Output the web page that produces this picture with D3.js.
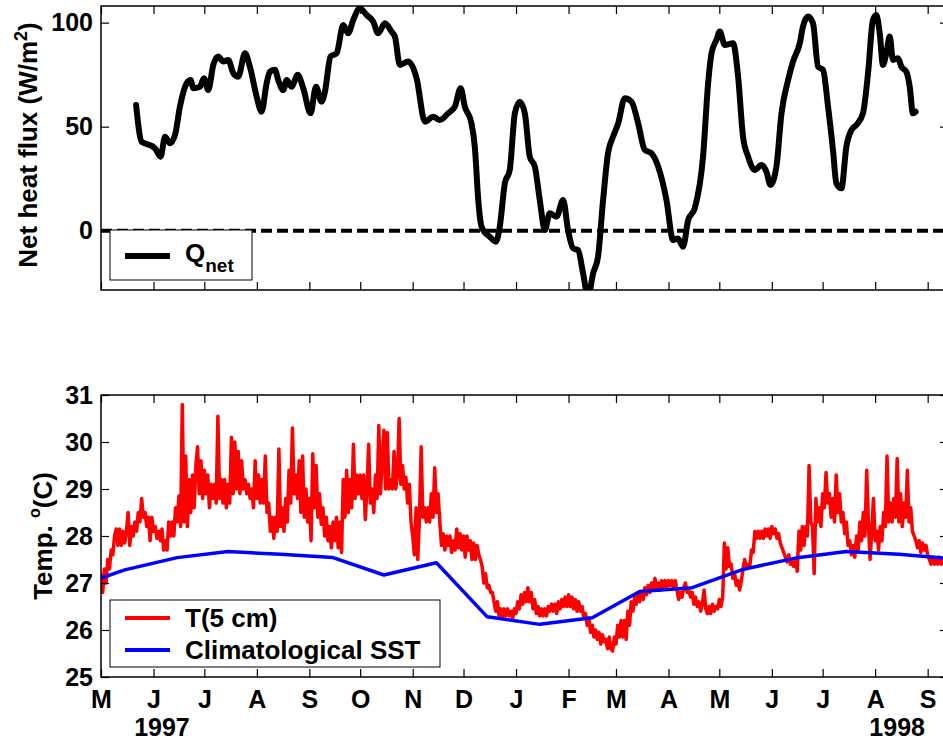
<!DOCTYPE html>
<html>
<head>
<meta charset="utf-8">
<script src="https://cdn.jsdelivr.net/npm/d3@7"></script>
<style>
  body { margin: 0; background: #fff; }
  svg { display: block; font-family: "Liberation Sans", Arial, sans-serif; font-weight: bold; }
</style>
</head>
<body>
<div id="chart"></div>
<script>
// Net heat flux (top) and 5 cm temperature vs climatology (bottom), May 1997 - Sep 1998

// Qnet: day offset from 1 May 1997, W/m^2
const qDays = [
  20.7, 24.0, 27.0, 31.9, 35.2, 37.8, 40.7, 43.7, 46.6, 50.6,
  52.9, 54.5, 58.4, 60.8, 63.3, 66.3, 69.2, 72.2, 75.1, 78.1,
  81.0, 85.0, 87.9, 91.9, 94.8, 97.8, 99.7, 102.7, 104.6, 107.6,
  109.6, 112.5, 116.1, 119.4, 123.7, 126.9, 130.2, 132.2, 135.5, 139.1,
  143.0, 145.9, 148.9, 152.8, 156.8, 160.7, 163.6, 167.6, 171.5, 173.5,
  176.4, 181.3, 186.3, 191.2, 196.1, 200.0, 204.9, 208.9, 212.3, 214.8,
  218.7, 220.7, 222.7, 224.3, 225.6, 229.5, 233.1, 235.4, 238.4, 241.3,
  244.3, 247.2, 250.2, 253.1, 256.1, 259.0, 262.0, 264.9, 268.9, 272.8,
  275.7, 278.7, 281.6, 284.6, 287.5, 290.5, 293.4, 296.4, 299.3, 302.3,
  305.3, 309.2, 313.2, 317.1, 321.0, 325.0, 328.9, 333.8, 337.7, 340.6,
  343.6, 346.6, 350.5, 355.4, 358.4, 360.4, 363.3, 365.3, 368.2, 373.1,
  376.1, 379.0, 382.0, 385.9, 389.9, 392.8, 395.2, 398.7, 401.7, 405.6,
  408.5, 412.5, 414.4, 417.4, 420.3, 423.3, 426.2, 429.2, 432.1, 434.1,
  437.1, 440.0, 443.0, 445.9, 449.8, 452.8, 455.7, 457.7, 459.7, 461.6,
  463.6, 465.6, 467.5, 470.5, 472.5, 475.4, 477.4, 479.3, 480.9
];
const qNet = [
  60.4, 42.8, 41.7, 39.6, 35.6, 45.2, 42, 46, 59.6, 70.9,
  72.4, 68.5, 69.2, 73.3, 67.6, 79.7, 83.7, 81.3, 82.1, 75.7,
  74, 85.3, 78.8, 64.4, 57.2, 70.9, 76.4, 77.3, 72.5, 67.6,
  72.4, 69.2, 74.9, 68.5, 56.4, 69.2, 62, 66.8, 83.7, 85.3,
  98.9, 94.9, 101.3, 106.9, 103.7, 100.5, 94.9, 99.7, 95.7, 93.3,
  79.7, 81.3, 73.3, 52.4, 54.8, 53.2, 56.4, 59.6, 68.5, 59.6,
  51.6, 40, 14.8, 3, 0.3, -2.9, -5.3, 1.9, 22.8, 29.2,
  56.4, 62, 56.4, 35.6, 30.8, 14.8, 0.3, 8.4, 6.7, 14.8,
  0.3, -8.5, -9.3, -20.5, -32, -20.5, -12.5, 14.8, 37.2, 45.2,
  51.6, 63.7, 62, 51.6, 38.8, 37.2, 30.8, 14.8, -4.5, -3.7,
  -7.7, 5.1, 10.8, 35.6, 70.9, 85.3, 91.7, 95.7, 89.3, 90.1,
  74, 45.2, 35.6, 29.2, 31.6, 28.4, 22, 30.8, 56.4, 72.4,
  81.3, 90.1, 98.1, 102.9, 99.7, 78.8, 77.3, 59.6, 38.8, 22.8,
  20.4, 40.4, 48.4, 50.8, 56.4, 75.7, 101.3, 103.7, 94.9, 79.7,
  85.3, 93.3, 82.1, 82.9, 78.8, 76.4, 69.2, 56.4, 57.2
];

// T(5 cm): one value per day from 1 May 1997, deg C
const t5cm = [
  27.2, 26.8, 27.3, 27.0, 27.5, 27.3, 27.7, 27.6, 28.0, 28.15,
  27.8, 28.15, 27.8, 28.1, 27.85, 28.1, 28.5, 27.8, 28.2, 28.0,
  28.3, 28.1, 28.5, 28.3, 28.8, 28.4, 28.5, 28.2, 28.4, 27.9,
  28.4, 28.1, 28.2, 27.95, 28.1, 27.9, 28.15, 27.7, 27.9, 27.7,
  28.3, 28.0, 28.3, 28.0, 28.6, 28.3, 28.85, 28.2, 30.8, 28.3,
  29.7, 28.2, 29.2, 28.5, 29.3, 28.6, 29.5, 29.9, 28.9, 29.6,
  28.8, 29.4, 28.9, 29.3, 28.6, 29.1, 28.8, 29.1, 28.7, 30.55,
  28.8, 29.2, 28.7, 29.2, 28.6, 29.1, 28.7, 30.1, 28.9, 30.0,
  29.0, 29.8, 28.9, 29.6, 29.0, 29.2, 28.9, 29.1, 28.8, 29.0,
  28.6, 29.6, 28.8, 29.3, 28.7, 29.2, 28.7, 29.7, 28.5, 28.7,
  28.1, 28.4, 27.95, 28.4, 28.1, 29.85, 28.2, 28.6, 28.1, 28.8,
  28.3, 29.4, 28.7, 30.3, 28.9, 29.3, 28.8, 29.6, 28.5, 29.7,
  28.4, 29.0, 28.3, 28.8, 27.9, 29.75, 28.6, 29.5, 28.4, 28.9,
  28.25, 28.6, 28.0, 28.4, 27.9, 28.2, 27.75, 28.3, 27.9, 28.4,
  27.75, 28.3, 27.65, 29.2, 28.4, 29.4, 28.5, 29.2, 28.6, 29.95,
  28.8, 29.3, 28.9, 29.3, 28.8, 29.3, 28.35, 29.0, 29.95, 28.7,
  29.0, 28.5, 29.3, 28.8, 30.35, 28.9, 29.6, 30.25, 29.0, 30.2,
  29.0, 29.2, 29.0, 29.8, 29.0, 29.3, 30.5, 29.1, 29.5, 29.0,
  29.25, 28.7, 29.1, 28.3, 28.0, 27.6, 28.6, 27.5, 28.4, 29.9,
  28.4, 28.6, 28.3, 28.6, 28.3, 28.9, 28.4, 29.45, 28.5, 28.9,
  28.3, 27.8, 28.05, 27.7, 28.0, 27.8, 28.0, 27.65, 27.9, 27.7,
  28.15, 27.75, 28.05, 27.7, 28.0, 27.55, 28.0, 27.7, 27.9, 27.5,
  27.85, 27.5, 27.8, 27.6, 27.5, 27.35, 27.0, 27.2, 26.9, 26.95,
  26.8, 26.8, 26.6, 26.4, 26.6, 26.3, 26.45, 26.25, 26.45, 26.3,
  26.45, 26.3, 26.4, 26.25, 26.45, 26.35, 26.6, 26.45, 26.75, 26.55,
  26.8, 26.6, 26.9, 26.6, 26.8, 26.45, 26.65, 26.35, 26.5, 26.3,
  26.45, 26.3, 26.45, 26.3, 26.5, 26.4, 26.55, 26.4, 26.55, 26.35,
  26.6, 26.45, 26.65, 26.5, 26.7, 26.5, 26.75, 26.5, 26.7, 26.45,
  26.65, 26.4, 26.6, 26.4, 26.5, 26.25, 26.35, 26.1, 26.25, 25.95,
  26.1, 25.85, 26.0, 25.8, 25.95, 25.7, 25.9, 25.75, 25.8, 25.6,
  25.85, 25.6, 25.55, 25.85, 25.7, 26.1, 25.85, 26.2, 25.85, 26.2,
  25.8, 26.4, 26.1, 26.6, 26.4, 26.7, 26.55, 26.8, 26.6, 26.8,
  26.65, 26.9, 26.75, 26.95, 26.8, 27.0, 26.85, 27.1, 26.9, 27.0,
  26.85, 27.05, 26.9, 27.05, 26.9, 27.05, 26.95, 27.05, 26.9, 27.05,
  26.85, 26.65, 26.8, 26.7, 26.9, 27.0, 26.8, 26.85, 26.7, 26.8,
  26.55, 26.7, 26.5, 26.6, 26.4, 26.55, 26.85, 26.45, 26.35, 26.5,
  26.35, 26.55, 26.4, 26.5, 26.45, 26.65, 26.5, 26.7, 27.85, 27.3,
  27.75, 27.35, 27.4, 27.1, 27.2, 26.95, 27.05, 26.85, 27.05, 27.3,
  27.5, 27.3, 27.4, 27.35, 27.7, 27.65, 28.1, 27.95, 28.1, 27.95,
  28.1, 27.95, 28.15, 28.0, 28.15, 27.95, 28.2, 28.05, 28.15, 27.95,
  28.05, 27.85, 27.75, 27.65, 27.55, 27.45, 27.6, 27.4, 27.45, 27.35,
  27.5, 27.25, 28.1, 27.7, 28.2, 27.8, 28.2, 28.0, 29.5, 28.3,
  28.2, 27.2, 28.8, 28.3, 28.6, 28.2, 28.9, 28.6, 29.35, 28.7,
  28.9, 28.4, 28.8, 28.3, 29.3, 28.5, 28.9, 28.3, 28.5, 28.05,
  28.3, 27.8, 27.9, 27.6, 27.8, 27.55, 28.0, 27.7, 28.3, 27.9,
  28.5, 28.0, 29.4, 28.3, 27.5, 28.1, 28.8, 27.9, 28.1, 27.7,
  28.2, 27.9, 28.5, 28.2, 29.7, 28.3, 28.7, 28.3, 28.8, 28.4,
  29.65, 28.3, 28.9, 28.2, 28.7, 28.4, 29.4, 28.3, 28.6, 28.1,
  28.0, 27.9, 27.75, 27.9, 27.65, 27.85, 27.7, 27.8, 27.6, 27.5,
  27.4, 27.55, 27.4, 27.5, 27.4, 27.55, 27.4, 27.5, 27.45, 27.5
];

// Climatological SST, mid-month values
const climDates = [
  "1997-04-15", "1997-05-15", "1997-06-15", "1997-07-15", "1997-08-15", "1997-09-15",
  "1997-10-15", "1997-11-15", "1997-12-15", "1998-01-15", "1998-02-15", "1998-03-15",
  "1998-04-15", "1998-05-15", "1998-06-15", "1998-07-15", "1998-08-15", "1998-09-15"
];
const climSST = [
  26.90, 27.28, 27.54, 27.67, 27.61, 27.54,
  27.17, 27.43, 26.28, 26.12, 26.26, 26.82,
  26.90, 27.29, 27.53, 27.67, 27.61, 27.52
];

const monthLetters = ['M', 'J', 'J', 'A', 'S', 'O', 'N', 'D', 'J', 'F', 'M', 'A', 'M', 'J', 'J', 'A', 'S'];
const qTicks = [0, 50, 100];
const tTicks = [25, 26, 27, 28, 29, 30, 31];
const years = [
  { label: '1997', date: '1997-06-06' },
  { label: '1998', date: '1998-08-14' }
];

const width = 943;
const height = 742;
const left = 101, right = 948;
const topPanel = { top: 6, bottom: 290 };
const botPanel = { top: 395, bottom: 677 };

const parse = d3.utcParse('%Y-%m-%d');
const start = new Date(Date.UTC(1997, 4, 1));
const end = new Date(Date.UTC(1998, 8, 13));
const dayToDate = d => new Date(start.getTime() + d * 864e5);

const x = d3.scaleUtc().domain([start, end]).range([left, right]);
const yQ = d3.scaleLinear().domain([-28.5, 108]).range([topPanel.bottom, topPanel.top]);
const yT = d3.scaleLinear().domain([25, 31]).range([botPanel.bottom, botPanel.top]);
const monthTicks = d3.utcMonth.range(start, end);

const svg = d3.select('#chart').append('svg')
    .attr('width', width)
    .attr('height', height);

const defs = svg.append('defs');
[['clipTop', topPanel], ['clipBot', botPanel]].forEach(([id, p]) => {
    defs.append('clipPath').attr('id', id)
        .append('rect')
        .attr('x', left).attr('y', p.top)
        .attr('width', right - left).attr('height', p.bottom - p.top);
});

function drawAxes(y, panel, ticks, showMonths) {
    const g = svg.append('g');
    g.append('g')
        .attr('transform', `translate(0,${panel.bottom})`)
        .call(d3.axisBottom(x).tickValues(monthTicks)
            .tickSizeInner(-8).tickSizeOuter(0).tickPadding(13)
            .tickFormat((d, i) => showMonths ? monthLetters[i] : ''));
    g.append('g')
        .attr('transform', `translate(0,${panel.top})`)
        .call(d3.axisTop(x).tickValues(monthTicks)
            .tickSizeInner(-8).tickSizeOuter(0).tickFormat(''));
    g.append('g')
        .attr('transform', `translate(${left},0)`)
        .call(d3.axisLeft(y).tickValues(ticks)
            .tickSizeInner(-8).tickSizeOuter(0).tickPadding(8)
            .tickFormat(d3.format('d')));
    g.append('g')
        .attr('transform', `translate(${right},0)`)
        .call(d3.axisRight(y).tickValues(ticks)
            .tickSizeInner(-8).tickSizeOuter(0).tickFormat(''));

    g.selectAll('.domain').remove();
    g.selectAll('.tick line').attr('stroke', '#000').attr('stroke-width', 1.2);
    g.selectAll('.tick text')
        .attr('fill', '#000')
        .style('font-family', '"Liberation Sans", Arial, sans-serif')
        .style('font-weight', 'bold')
        .style('font-size', '25px');

    g.append('rect')
        .attr('x', left).attr('y', panel.top)
        .attr('width', right - left).attr('height', panel.bottom - panel.top)
        .attr('fill', 'none')
        .attr('stroke', '#000')
        .attr('stroke-width', 1.5);
}

// ---- top panel: net heat flux ----
const qData = qDays.map((d, i) => ({ date: dayToDate(d), value: qNet[i] }));

svg.append('line')
    .attr('clip-path', 'url(#clipTop)')
    .attr('x1', left).attr('x2', right)
    .attr('y1', yQ(0)).attr('y2', yQ(0))
    .attr('stroke', '#000')
    .attr('stroke-width', 4)
    .attr('stroke-dasharray', '11,5');

svg.append('path')
    .datum(qData)
    .attr('clip-path', 'url(#clipTop)')
    .attr('fill', 'none')
    .attr('stroke', '#000')
    .attr('stroke-width', 6)
    .attr('stroke-linejoin', 'round')
    .attr('stroke-linecap', 'round')
    .attr('d', d3.line().curve(d3.curveMonotoneX)
        .x(d => x(d.date)).y(d => yQ(d.value)));

drawAxes(yQ, topPanel, qTicks, false);

// legend (top)
const legTop = svg.append('g');
legTop.append('rect')
    .attr('x', 110).attr('y', 230).attr('width', 142).attr('height', 50)
    .attr('fill', '#fff').attr('stroke', '#000').attr('stroke-width', 1);
legTop.append('line')
    .attr('x1', 125).attr('x2', 170).attr('y1', 256).attr('y2', 256)
    .attr('stroke', '#000').attr('stroke-width', 6);
const qLabel = legTop.append('text')
    .attr('x', 185).attr('y', 262)
    .style('font-size', '26px');
qLabel.append('tspan').text('Q');
qLabel.append('tspan').attr('dy', 10).style('font-size', '19px').text('net');

svg.append('text')
    .attr('transform', `translate(37,${(topPanel.top + topPanel.bottom) / 2 - 3}) rotate(-90)`)
    .attr('text-anchor', 'middle')
    .style('font-size', '26px')
    .call(t => {
        t.append('tspan').text('Net heat flux (W/m');
        t.append('tspan').attr('dy', -10).style('font-size', '18px').text('2');
        t.append('tspan').attr('dy', 10).text(')');
    });

// ---- bottom panel: temperature ----
const tData = t5cm.map((v, i) => ({ date: dayToDate(i), value: v }));
const climData = climDates.map((d, i) => ({ date: parse(d), value: climSST[i] }));

const tLine = d3.line().x(d => x(d.date)).y(d => yT(d.value));

svg.append('path')
    .datum(tData)
    .attr('clip-path', 'url(#clipBot)')
    .attr('fill', 'none')
    .attr('stroke', '#ff0000')
    .attr('stroke-width', 3.5)
    .attr('stroke-linejoin', 'round')
    .attr('d', tLine);

svg.append('path')
    .datum(climData)
    .attr('clip-path', 'url(#clipBot)')
    .attr('fill', 'none')
    .attr('stroke', '#0000ff')
    .attr('stroke-width', 3.5)
    .attr('stroke-linejoin', 'round')
    .attr('d', tLine);

drawAxes(yT, botPanel, tTicks, true);

// legend (bottom)
const legendItems = [
    { label: 'T(5 cm)', color: '#ff0000', y: 618 },
    { label: 'Climatological SST', color: '#0000ff', y: 650 }
];
const legBot = svg.append('g');
legBot.append('rect')
    .attr('x', 110).attr('y', 600).attr('width', 330).attr('height', 67)
    .attr('fill', '#fff').attr('stroke', '#000').attr('stroke-width', 1);
legendItems.forEach(d => {
    legBot.append('line')
        .attr('x1', 125).attr('x2', 170).attr('y1', d.y).attr('y2', d.y)
        .attr('stroke', d.color).attr('stroke-width', 4);
    legBot.append('text')
        .attr('x', 185).attr('y', d.y + 9)
        .style('font-size', '26px')
        .text(d.label);
});

svg.append('text')
    .attr('transform', `translate(52,${(botPanel.top + botPanel.bottom) / 2}) rotate(-90)`)
    .attr('text-anchor', 'middle')
    .style('font-size', '26px')
    .call(t => {
        t.append('tspan').text('Temp. ');
        t.append('tspan').attr('dy', -12).style('font-size', '16px').text('o');
        t.append('tspan').attr('dy', 12).text('(C)');
    });

// year labels
svg.selectAll('.year')
    .data(years)
    .enter().append('text')
    .attr('class', 'year')
    .attr('x', d => x(parse(d.date)))
    .attr('y', 736)
    .attr('text-anchor', 'middle')
    .style('font-size', '25px')
    .text(d => d.label);
</script>
</body>
</html>
